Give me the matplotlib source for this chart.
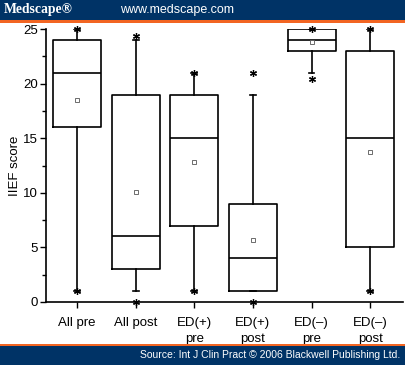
import matplotlib
matplotlib.use("Agg")
import matplotlib.pyplot as plt
from matplotlib.patches import Rectangle

categories = ["All pre", "All post", "ED(+)\npre", "ED(+)\npost", "ED(\u2013)\npre", "ED(\u2013)\npost"]
q1 = [16, 3, 7, 1, 23, 5]
median = [21, 6, 15, 4, 24, 15]
q3 = [24, 19, 19, 9, 25, 23]
mean = [18.5, 10.1, 12.8, 5.7, 23.8, 13.7]
whisker_low = [1, 1, 1, 1, 21, 1]
whisker_high = [25, 24, 21, 19, 25, 25]
extreme_low = [1, 0, 1, 0, 20.4, 1]
extreme_high = [25, 24.4, 21, 21, 25, 25]

plt.rcParams['font.family'] = ['Liberation Sans', 'DejaVu Sans']

W, H = 405, 365
fig = plt.figure(figsize=(W / 100, H / 100), dpi=100)
fig.patch.set_facecolor("white")

ax_left, ax_right = 46, 403
ax_bottom, ax_top = 302, 29
ax = fig.add_axes([ax_left / W, (H - ax_bottom) / H, (ax_right - ax_left) / W, (ax_bottom - ax_top) / H])

stats = []
for i in range(len(categories)):
    stats.append(dict(label=categories[i], q1=q1[i], med=median[i], q3=q3[i],
                      mean=mean[i], whislo=whisker_low[i], whishi=whisker_high[i],
                      fliers=[]))

positions = list(range(1, len(categories) + 1))
lw = 1.2
ax.bxp(stats, positions=positions, widths=0.82, showmeans=True, showfliers=False,
       boxprops=dict(color="black", linewidth=lw),
       medianprops=dict(color="black", linewidth=lw),
       whiskerprops=dict(color="black", linewidth=lw),
       capprops=dict(color="black", linewidth=lw),
       meanprops=dict(marker="s", markersize=3, markerfacecolor="white",
                      markeredgecolor="#555555", markeredgewidth=0.6),
       capwidths=0.1, manage_ticks=False)

for p, lo, hi in zip(positions, extreme_low, extreme_high):
    ax.plot([p, p], [lo, hi], linestyle="none", marker=(6, 2, 0), markersize=5,
            color="black", markeredgewidth=0.9, clip_on=False, zorder=5)

ax.set_xlim(0.47, 6.56)
ax.set_ylim(0, 25)
ax.set_yticks([0, 5, 10, 15, 20, 25])
ax.set_yticks([2.5, 7.5, 12.5, 17.5, 22.5], minor=True)
ax.set_xticks(positions)
ax.set_xticklabels(categories, fontsize=9.5, linespacing=1.45)
ax.tick_params(axis="y", which="major", direction="out", length=4, width=1, labelsize=9.5, pad=2)
ax.tick_params(axis="y", which="minor", direction="out", length=3, width=1)
ax.tick_params(axis="x", direction="out", length=4, width=1, pad=7)
for s in ["top", "right"]:
    ax.spines[s].set_visible(False)
for s in ["left", "bottom"]:
    ax.spines[s].set_linewidth(1.2)
ax.set_ylabel("IIEF score", fontsize=9.5)
ax.yaxis.set_label_coords(-25 / (ax_right - ax_left), 0.5)

navy = "#003366"
orange = "#F26522"
# header
fig.patches.append(Rectangle((0, (H - 20) / H), 1, 20 / H, transform=fig.transFigure,
                             facecolor=navy, edgecolor="none", zorder=10))
fig.patches.append(Rectangle((0, (H - 23) / H), 1, 3 / H, transform=fig.transFigure,
                             facecolor=orange, edgecolor="none", zorder=10))
fig.text(4 / W, (H - 10) / H, "Medscape\u00ae", color="white", fontsize=9.8,
         family=["Liberation Serif", "DejaVu Serif"], weight="bold", va="center", ha="left", zorder=11)
fig.text(120 / W, (H - 10) / H, "www.medscape.com", color="white", fontsize=9,
         va="center", ha="left", zorder=11)
# footer
fig.patches.append(Rectangle((0, 0), 1, 19 / H, transform=fig.transFigure,
                             facecolor=navy, edgecolor="none", zorder=10))
fig.patches.append(Rectangle((0, 19 / H), 1, 2 / H, transform=fig.transFigure,
                             facecolor=orange, edgecolor="none", zorder=10))
fig.text(400 / W, 9.5 / H, "Source: Int J Clin Pract \u00a9 2006 Blackwell Publishing Ltd.",
         color="white", fontsize=7.5, va="center", ha="right", zorder=11)

fig.savefig("out.png", dpi=100)
